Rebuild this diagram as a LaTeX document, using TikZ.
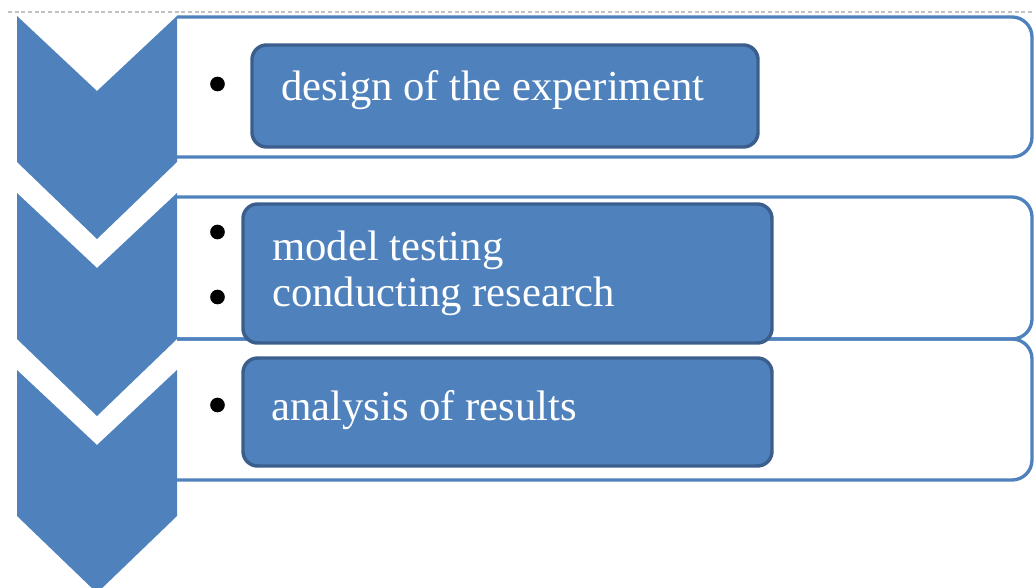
\documentclass[tikz,border=0pt]{standalone}
\usepackage{fontspec}
\setmainfont{Liberation Serif}
\usepackage{tikz}
\definecolor{StageBlue}{rgb}{0.31,0.51,0.74}
\definecolor{StageEdge}{rgb}{0.23,0.37,0.55}
\definecolor{RuleGrey}{rgb}{0.76,0.76,0.76}
\newcommand{\stagetext}[1]{{\color{white}#1}}

\begin{document}
\begin{tikzpicture}[x=0.75pt,y=-0.75pt,
        stagebox/.style={draw=StageEdge, fill=StageBlue, line width=2.6pt, rounded corners=11pt, inner sep=0pt},
        bulletdot/.style={circle, fill=black, inner sep=0pt, minimum size=11pt},
        stagelabel/.style={anchor=base west, inner sep=0pt, font=\fontsize{32}{34.5}\selectfont},
        frame/.style={draw=StageBlue, line width=2.5pt, rounded corners=15pt}]
        \useasboundingbox (0,0) rectangle (1034,588);
        \clip (0,0) rectangle (1034,588);
        \draw [RuleGrey, line width=1.6pt, dash pattern=on 3pt off 2pt] (8,12) -- (1034,12);
        % open frames behind the chevrons
        \draw [frame] (177,17) -- (1032,17) -- (1032,157) -- (177,157);
        \draw [frame] (177,197) -- (1032,197) -- (1032,339) -- (177,339);
        \draw [frame] (177,339) -- (1032,339) -- (1032,480) -- (177,480);
        % chevrons
        \foreach \t in {16,193,370}
          \fill [StageBlue] (17,\t) -- (97,\t+75) -- (177,\t) -- (177,\t+146) -- (97,\t+223) -- (17,\t+146) -- cycle;
        \node [stagebox, minimum width=379.5pt, minimum height=76.5pt] (design) at (505,96) {};
        \node [stagebox, minimum width=396.75pt, minimum height=104.25pt] (testing) at (507.5,273.5) {};
        \node [stagebox, minimum width=396.75pt, minimum height=81pt] (analysis) at (507.5,412) {};
        \node [bulletdot] (b1) at (217.5,84) {};
        \node [bulletdot] (b2) at (217.5,232) {};
        \node [bulletdot] (b3) at (217.5,297) {};
        \node [bulletdot] (b4) at (217.5,405) {};
        \node [stagelabel] (l1) at (281,101) {\stagetext{design of the experiment}};
        \node [stagelabel] (l2) at (272,260) {\stagetext{model testing}};
        \node [stagelabel] (l3) at (272,306) {\stagetext{conducting research}};
        \node [stagelabel] (l4) at (271,420) {\stagetext{analysis of results}};
      \end{tikzpicture}
\end{document}
